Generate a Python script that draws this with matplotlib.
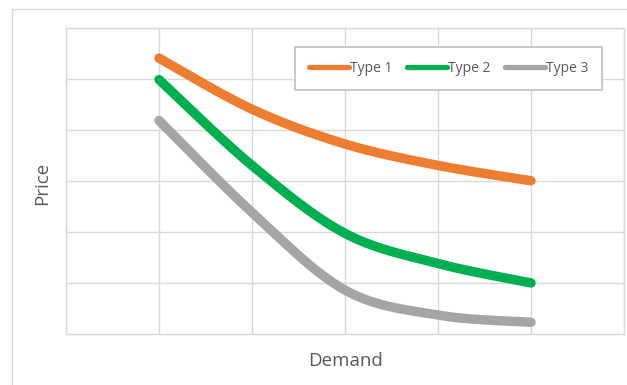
import numpy as np
import matplotlib.pyplot as plt
from matplotlib.lines import Line2D

# values (x = demand step, y = price units)
demand = [1, 2, 3, 4, 5]
type1 = [5.4, 4.4, 3.72, 3.3, 3.0]
type2 = [4.98, 3.3, 1.97, 1.38, 1.0]
type3 = [4.18, 2.38, 0.86, 0.37, 0.23]
series_names = ['Type 1', 'Type 2', 'Type 3']
colors = ['#ED7D31', '#00B050', '#A5A5A5']


def smooth(xs, ys, sx=93.0, sy=51.1, n=40):
    # excel-like smoothed line: bezier segments with catmull-rom controls, done in screen units
    p = np.column_stack([np.asarray(xs) * sx, np.asarray(ys) * sy]).astype(float)
    p = np.vstack([p[0], p, p[-1]])
    out = []
    t = np.linspace(0, 1, n)[:, None]
    for i in range(1, len(p) - 2):
        p0, p1, p2, p3 = p[i - 1], p[i], p[i + 1], p[i + 2]
        c1 = p1 + (p2 - p0) / 6
        c2 = p2 - (p3 - p1) / 6
        seg = ((1 - t) ** 3) * p1 + 3 * ((1 - t) ** 2) * t * c1 + 3 * (1 - t) * t ** 2 * c2 + t ** 3 * p2
        out.append(seg)
    out = np.vstack(out)
    return out[:, 0] / sx, out[:, 1] / sy


fig = plt.figure(figsize=(6.27, 3.85), dpi=100)
ax = fig.add_axes([66 / 627, 1 - 334 / 385, (624 - 66) / 627, (334 - 27.5) / 385])

grid_c = '#d9d9d9'
for i, ys in enumerate([type1, type2, type3]):
    sx, sy = smooth(demand, ys)
    ax.plot(sx, sy, color=colors[i], lw=6.8, solid_capstyle='round', zorder=3)

ax.set_xlim(0, 6)
ax.set_ylim(0, 6)
ax.set_xticks(range(7))
ax.set_yticks(range(7))
ax.tick_params(length=0, labelbottom=False, labelleft=False)
ax.grid(True, color=grid_c, lw=1)
for s in ax.spines.values():
    s.set_color(grid_c)
    s.set_linewidth(1)

fig.text(42 / 627, 1 - 183 / 385, 'Price', rotation=90, ha='center', va='center',
         fontsize=13.5, color='#595959', family='Open Sans')
fig.text(346 / 627, 1 - 361 / 385, 'Demand', ha='center', va='center',
         fontsize=13.5, color='#595959', family='Open Sans')

handles = [Line2D([], [], color=c, lw=3.8, solid_capstyle='round') for c in colors]
leg = fig.legend(handles, series_names, ncol=3, loc='center',
                 bbox_to_anchor=(448.5 / 627, 1 - 68.5 / 385),
                 handlelength=2.9, handletextpad=0.05, columnspacing=1.05,
                 fancybox=False, framealpha=1, edgecolor='#bfbfbf',
                 prop={'family': 'Open Sans', 'size': 10}, borderpad=1.0)
leg.get_frame().set_linewidth(1.2)
for t in leg.get_texts():
    t.set_color('#595959')

# outer chart border (partly outside the picture)
fig.add_artist(Line2D([12 / 627, 12 / 627], [0, 1 - 9 / 385], color=grid_c, lw=1))
fig.add_artist(Line2D([12 / 627, 1], [1 - 9 / 385, 1 - 9 / 385], color=grid_c, lw=1))

fig.savefig('out.png', dpi=100)
